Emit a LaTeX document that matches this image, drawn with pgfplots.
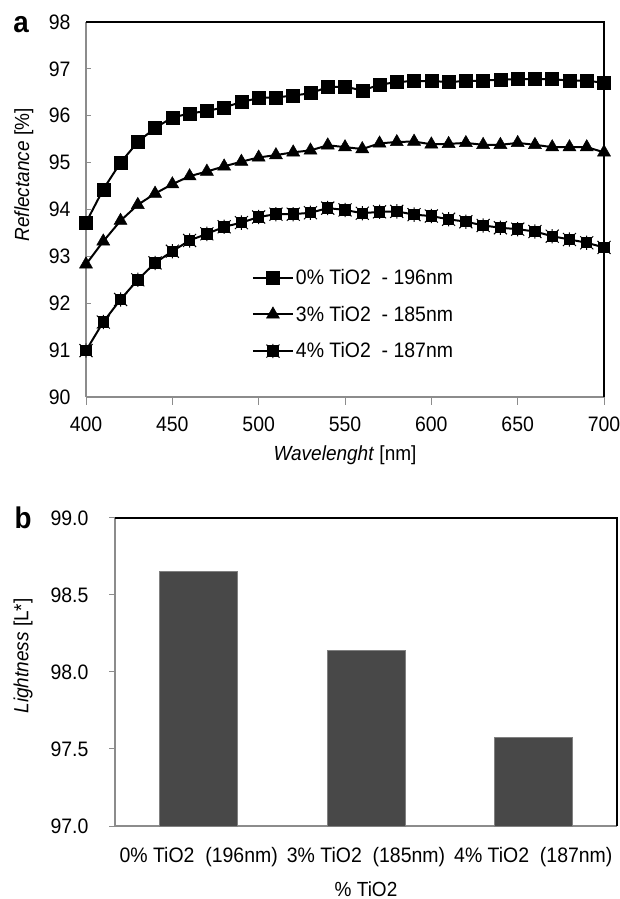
\documentclass[border=0pt]{standalone}
\usepackage{pgfplots}
\pgfplotsset{compat=1.18}
\usepackage{pgfplotstable}
\usepackage{fontspec}
\setmainfont[FakeStretch=0.93]{Liberation Sans}
\definecolor{axgray}{RGB}{140,140,140}
\definecolor{bargray}{RGB}{72,72,72}

\pgfdeclareplotmark{sqstar}{%
  \pgfpathrectangle{\pgfpoint{-0.8\pgfplotmarksize}{-0.8\pgfplotmarksize}}{\pgfpoint{1.6\pgfplotmarksize}{1.6\pgfplotmarksize}}%
  \pgfusepathqfillstroke
  \pgfpathmoveto{\pgfpoint{-\pgfplotmarksize}{-\pgfplotmarksize}}\pgfpathlineto{\pgfpoint{\pgfplotmarksize}{\pgfplotmarksize}}%
  \pgfpathmoveto{\pgfpoint{-\pgfplotmarksize}{\pgfplotmarksize}}\pgfpathlineto{\pgfpoint{\pgfplotmarksize}{-\pgfplotmarksize}}%
  \pgfpathmoveto{\pgfpoint{0pt}{-1.1\pgfplotmarksize}}\pgfpathlineto{\pgfpoint{0pt}{1.1\pgfplotmarksize}}%
  \pgfusepathqstroke
}

\pgfplotstableread{
x s0 s3 s4
400 93.72 92.83 90.99
410 94.43 93.32 91.60
420 95.00 93.76 92.08
430 95.44 94.10 92.50
440 95.74 94.34 92.86
450 95.96 94.54 93.11
460 96.05 94.71 93.34
470 96.10 94.81 93.48
480 96.18 94.92 93.63
490 96.29 95.02 93.72
500 96.38 95.11 93.84
510 96.39 95.16 93.90
520 96.43 95.22 93.90
530 96.48 95.26 93.93
540 96.61 95.37 94.03
550 96.62 95.33 93.99
560 96.54 95.29 93.92
570 96.66 95.41 93.95
580 96.72 95.44 93.96
590 96.74 95.45 93.89
600 96.74 95.39 93.86
610 96.72 95.40 93.79
620 96.74 95.42 93.74
630 96.75 95.38 93.66
640 96.77 95.38 93.61
650 96.78 95.42 93.58
660 96.78 95.38 93.53
670 96.78 95.33 93.43
680 96.75 95.33 93.36
690 96.75 95.33 93.29
700 96.70 95.22 93.19
}\refl

\begin{document}
\begin{tikzpicture}[x=1bp,y=1bp]
\path[use as bounding box] (0,0) rectangle (620,899);

\begin{axis}[
  at={(86bp,502bp)}, anchor=south west, scale only axis,
  width=518bp, height=375bp,
  xmin=400, xmax=700, ymin=90, ymax=98,
  xtick={400,450,...,700}, ytick={90,91,...,98},
  axis x line*=bottom, axis y line*=left,
  axis line style={axgray, line width=1.2pt},
  tick style={axgray, line width=1pt},
  x tick style={/pgfplots/tick align=outside, /pgfplots/major tick length=8bp},
  y tick style={/pgfplots/tick align=inside, /pgfplots/major tick length=5bp},
  /pgf/number format/assume math mode=true,
  ticklabel style={font=\fontsize{21}{24}\selectfont},
  xticklabel style={yshift=-16bp},
  yticklabel style={xshift=-12bp},
  every axis y label/.style={at={(axis description cs:-0.12,0.592)}, rotate=90, anchor=center},
  every axis x label/.style={at={(axis description cs:0.5,-0.155)}, anchor=center},
  ylabel={\fontsize{20.5}{24}\selectfont\textit{Reflectance} [\%]},
  xlabel={\fontsize{20.5}{24}\selectfont\textit{Wavelenght} [nm]},
  legend style={at={(0.32,0.346)}, anchor=north west, draw=none, fill=none,
    font=\fontsize{21}{24}\selectfont, row sep=16bp, inner sep=0pt},
  legend cell align=left,
  legend image code/.code={\draw[mark repeat=2,mark phase=2] plot coordinates {(0bp,0bp) (20bp,0bp) (40bp,0bp)};},
  clip=false,
  after end axis/.code={\draw[black, line width=1.2pt] (rel axis cs:0,1) -- (rel axis cs:1,1) -- (rel axis cs:1,0);},
]
\addplot[black, line width=2pt, mark=square*, mark size=6.5bp, mark options={solid, line width=0.5pt}] table[x=x, y=s0] {\refl};
\addlegendentry{0\% TiO2\ \ - 196nm}
\addplot[black, line width=2pt, mark=triangle*, mark size=7.5bp, mark options={solid, line width=0.5pt}] table[x=x, y=s3] {\refl};
\addlegendentry{3\% TiO2\ \ - 185nm}
\addplot[black, line width=2pt, mark=sqstar, mark size=6.5bp, mark options={solid, line width=1pt}] table[x=x, y=s4] {\refl};
\addlegendentry{4\% TiO2\ \ - 187nm}
\end{axis}

\begin{axis}[
  at={(115bp,73bp)}, anchor=south west, scale only axis,
  width=502bp, height=308bp,
  xmin=-0.5, xmax=2.5, ymin=97, ymax=99,
  xtick={0,1,2},
  xticklabels={0\% TiO2\ \ (196nm), 3\% TiO2\ \ (185nm), 4\% TiO2\ \ (187nm)},
  ytick={97,97.5,98,98.5,99},
  /pgf/number format/fixed, /pgf/number format/fixed zerofill, /pgf/number format/precision=1,
  axis x line*=bottom, axis y line*=left,
  axis line style={axgray, line width=1.2pt},
  x tick style={draw=none},
  y tick style={axgray, line width=1pt},
  tick align=outside, major tick length=6bp,
  /pgf/number format/assume math mode=true,
  ticklabel style={font=\fontsize{21}{24}\selectfont},
  xticklabel style={yshift=-12bp},
  yticklabel style={xshift=-17bp},
  every axis y label/.style={at={(axis description cs:-0.183,0.552)}, rotate=90, anchor=center},
  every axis x label/.style={at={(axis description cs:0.5,-0.205)}, anchor=center},
  ylabel={\fontsize{20.5}{24}\selectfont\textit{Lightness} [L*]},
  xlabel={\fontsize{20.5}{24}\selectfont\% TiO2},
  ybar, bar width=78bp,
  clip=false,
  after end axis/.code={\draw[black, line width=1.2pt] (rel axis cs:0,1) -- (rel axis cs:1,1) -- (rel axis cs:1,0);},
]
\addplot[fill=bargray, draw=gray, line width=0.6pt] coordinates {(0,98.651) (1,98.141) (2,97.574)};
\end{axis}

\node[font=\fontsize{30}{32}\selectfont\bfseries] at (21,874) {a};
\node[font=\fontsize{30}{32}\selectfont\bfseries] at (23,381) {b};
\end{tikzpicture}
\end{document}
